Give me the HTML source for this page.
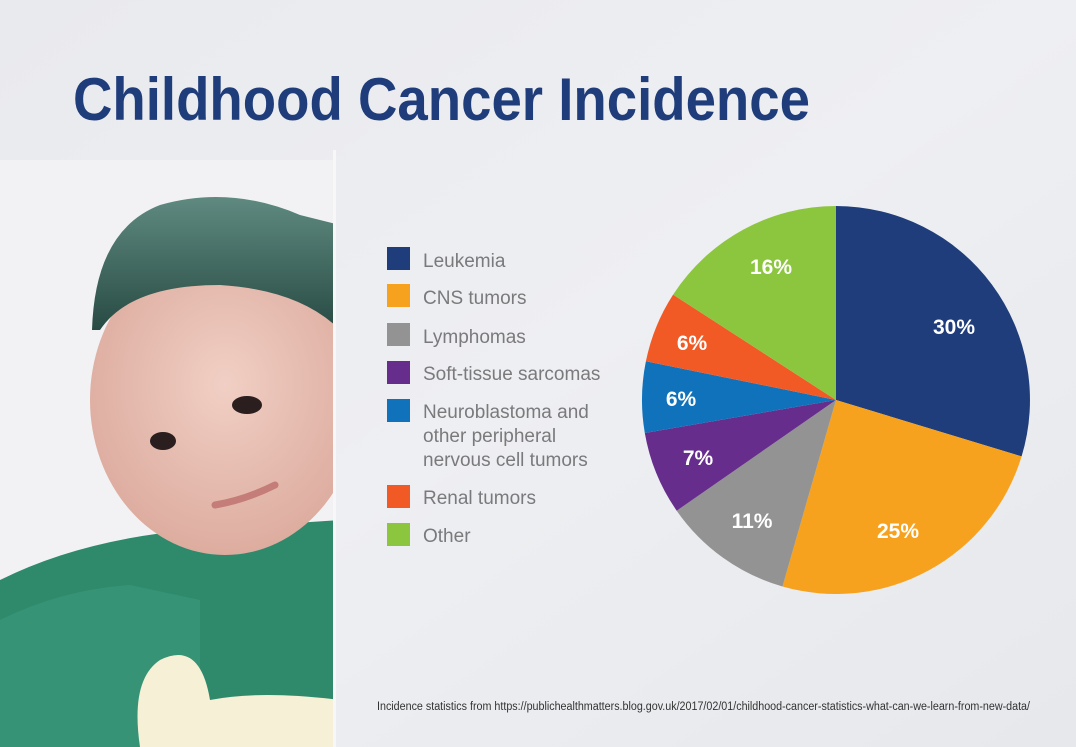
<!DOCTYPE html>
<html><head><meta charset="utf-8"><style>
html,body{margin:0;padding:0;width:1076px;height:747px;overflow:hidden;background:#eeeff2;}
svg{display:block;}
</style></head><body>
<svg width="1076" height="747" viewBox="0 0 1076 747" xmlns="http://www.w3.org/2000/svg">
<defs>
<linearGradient id="bg" x1="0" y1="0" x2="1" y2="1">
<stop offset="0" stop-color="#e9eaee"/><stop offset="0.5" stop-color="#eeeff2"/><stop offset="1" stop-color="#e6e8ec"/>
</linearGradient>
<radialGradient id="face" cx="0.5" cy="0.45" r="0.6">
<stop offset="0" stop-color="#f1cfc4"/><stop offset="1" stop-color="#dba99c"/>
</radialGradient>
<linearGradient id="cap" x1="0" y1="0" x2="0" y2="1">
<stop offset="0" stop-color="#5f8a80"/><stop offset="1" stop-color="#284b44"/>
</linearGradient>
<clipPath id="cl"><rect x="0" y="150" width="333" height="597"/></clipPath>
</defs>
<rect width="1076" height="747" fill="url(#bg)"/>
<rect x="0" y="160" width="333" height="587" fill="#f2f2f4"/>
<g clip-path="url(#cl)">
<path d="M0 580 Q80 540 190 530 L340 520 L340 747 L0 747 Z" fill="#2f8a6c"/>
<path d="M0 620 Q60 590 130 585 L200 600 L200 747 L0 747Z" fill="#3c9a7b" opacity="0.6"/>
<ellipse cx="225" cy="400" rx="135" ry="155" fill="url(#face)"/>
<path d="M92 330 Q95 230 160 205 Q230 185 300 215 L340 225 L340 330 Q300 290 220 285 Q130 285 100 330 Z" fill="url(#cap)"/>
<ellipse cx="163" cy="441" rx="13" ry="9" fill="#2a1e1e"/>
<ellipse cx="247" cy="405" rx="15" ry="9" fill="#2a1e1e"/>
<path d="M215 505 Q245 500 275 485" stroke="#c47d78" stroke-width="7" fill="none" stroke-linecap="round"/>
<path d="M140 747 Q130 680 160 660 Q200 640 210 700 Q260 690 340 700 L340 747 Z" fill="#f5f0d6"/>
</g>
<rect x="333" y="150" width="3" height="597" fill="#f7f7f8"/>
<text x="73" y="120" font-family="Liberation Sans, sans-serif" font-weight="bold" font-size="60" fill="#1f3d7a" textLength="737" lengthAdjust="spacingAndGlyphs">Childhood Cancer Incidence</text>
<g font-family="Liberation Sans, sans-serif" font-size="19" fill="#7a7a7c">
<rect x="387" y="247" width="23" height="23" fill="#1f3d7a"/><text x="423" y="267">Leukemia</text>
<rect x="387" y="284" width="23" height="23" fill="#f7a21e"/><text x="423" y="304">CNS tumors</text>
<rect x="387" y="323" width="23" height="23" fill="#939393"/><text x="423" y="343">Lymphomas</text>
<rect x="387" y="361" width="23" height="23" fill="#662d8c"/><text x="423" y="380">Soft-tissue sarcomas</text>
<rect x="387" y="399" width="23" height="23" fill="#1072ba"/><text x="423" y="418">Neuroblastoma and</text><text x="423" y="442">other peripheral</text><text x="423" y="466">nervous cell tumors</text>
<rect x="387" y="485" width="23" height="23" fill="#f15a24"/><text x="423" y="504">Renal tumors</text>
<rect x="387" y="523" width="23" height="23" fill="#8cc63f"/><text x="423" y="542">Other</text>
</g>
<g>
<path d="M836 400 L836 206 A194 194 0 0 1 1021.6 456.4 Z" fill="#1f3d7a"/>
<path d="M836 400 L1021.6 456.4 A194 194 0 0 1 782.5 586.5 Z" fill="#f7a21e"/>
<path d="M836 400 L782.5 586.5 A194 194 0 0 1 676.7 510.7 Z" fill="#939393"/>
<path d="M836 400 L676.7 510.7 A194 194 0 0 1 644.8 433 Z" fill="#662d8c"/>
<path d="M836 400 L644.8 433 A194 194 0 0 1 645.9 361.3 Z" fill="#1072ba"/>
<path d="M836 400 L645.9 361.3 A194 194 0 0 1 673.1 294.6 Z" fill="#f15a24"/>
<path d="M836 400 L673.1 294.6 A194 194 0 0 1 836 206 Z" fill="#8cc63f"/>
</g>
<g font-family="Liberation Sans, sans-serif" font-weight="bold" font-size="21" fill="#fff" text-anchor="middle">
<text x="954" y="334">30%</text>
<text x="898" y="538">25%</text>
<text x="752" y="528">11%</text>
<text x="698" y="465">7%</text>
<text x="681" y="406">6%</text>
<text x="692" y="350">6%</text>
<text x="771" y="274">16%</text>
</g>
<text x="377" y="710" font-family="Liberation Sans, sans-serif" font-size="11.5" fill="#333" textLength="653" lengthAdjust="spacingAndGlyphs">Incidence statistics from https://publichealthmatters.blog.gov.uk/2017/02/01/childhood-cancer-statistics-what-can-we-learn-from-new-data/</text>
</svg>
</body></html>
